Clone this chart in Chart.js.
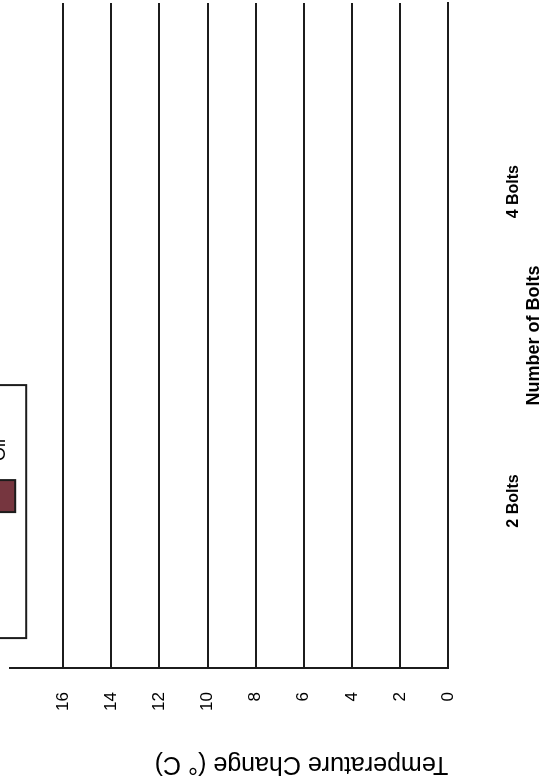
<!DOCTYPE html>
<html lang="en">

<head>
    <meta charset="UTF-8">
    <title>Temperature Change vs Number of Bolts</title>
    <script src="https://cdn.jsdelivr.net/npm/chart.js@4.4.1/dist/chart.umd.min.js"></script>
    <style>
        html,
        body {
            margin: 0;
            padding: 0;
            width: 545px;
            height: 779px;
            overflow: hidden;
            background-color: #fff;
        }
        
        /* the sheet was scanned sideways, so the whole chart is turned a quarter left */
        .sheet {
            position: absolute;
            left: 0;
            top: 779px;
            width: 779px;
            height: 545px;
            transform-origin: 0 0;
            transform: rotate(-90deg);
        }
    </style>
</head>

<body>
    <div class="sheet">
        <canvas id="bolt-chart" width="779" height="545"></canvas>
    </div>

    <script>
        const boltCounts = [2, 4];
        const boltLabels = ['2 Bolts', '4 Bolts'];
        const oilValues = [null, null]; // blank sheet, no bars filled in
        const tempTicks = [0, 2, 4, 6, 8, 10, 12, 14, 16];

        const font = '"Liberation Sans", Arial, sans-serif';
        const ink = '#1c1c1c';

        // boxed legend sitting at the top of the plot, cut off by the scan
        const legendBox = {
            id: 'legendBox',
            afterDraw(chart) {
                const { ctx, chartArea: a } = chart;
                const ds = chart.data.datasets[0];
                const left = a.left + 30;
                const right = a.left + 283;
                const bottom = a.top + 16;
                ctx.save();
                ctx.strokeStyle = ink;
                ctx.lineWidth = 2;
                ctx.strokeRect(left, -60, right - left, bottom + 60);
                const sx = left + 126;
                const sy = a.top - 25;
                ctx.fillStyle = ds.backgroundColor;
                ctx.fillRect(sx, sy, 32, 30);
                ctx.strokeRect(sx, sy, 32, 30);
                ctx.fillStyle = '#000';
                ctx.font = '18px ' + font;
                ctx.textBaseline = 'middle';
                ctx.fillText(ds.label, sx + 51, a.top - 10);
                ctx.restore();
            }
        };

        const ctx = document.getElementById('bolt-chart').getContext('2d');
        new Chart(ctx, {
            type: 'bar',
            data: {
                labels: boltCounts,
                datasets: [{
                    label: 'Oil',
                    data: oilValues,
                    backgroundColor: '#76363f',
                    borderColor: ink,
                    borderWidth: 1
                }]
            },
            options: {
                responsive: false,
                animation: false,
                layout: {
                    padding: { top: 10, right: 3, left: 0, bottom: 0 }
                },
                plugins: {
                    legend: { display: false },
                    tooltip: { enabled: false }
                },
                scales: {
                    x: {
                        type: 'linear',
                        offset: false,
                        min: 0.92,
                        max: 5.22,
                        afterBuildTicks: s => {
                            s.ticks = boltCounts.map(v => ({ value: v }));
                        },
                        grid: {
                            drawOnChartArea: false,
                            drawTicks: true,
                            tickLength: 56,
                            tickColor: 'rgba(0,0,0,0)'
                        },
                        border: { display: true, color: ink, width: 2 },
                        ticks: {
                            padding: 0,
                            maxRotation: 0,
                            color: '#000',
                            font: { family: font, size: 16, weight: 'bold' },
                            callback: (v, i) => boltLabels[i]
                        },
                        title: {
                            display: true,
                            text: 'Number of Bolts',
                            color: '#000',
                            padding: { top: 0, bottom: 0 },
                            font: { family: font, size: 18, weight: 'bold' }
                        }
                    },
                    y: {
                        min: 0,
                        max: 18.2,
                        afterBuildTicks: s => {
                            s.ticks = tempTicks.map(v => ({ value: v }));
                        },
                        grid: {
                            color: ink,
                            lineWidth: 2,
                            drawTicks: true,
                            tickLength: 24,
                            tickColor: 'rgba(0,0,0,0)'
                        },
                        border: { display: true, color: ink, width: 2 },
                        ticks: {
                            padding: 0,
                            color: '#000',
                            font: { family: font, size: 17 }
                        },
                        title: {
                            display: true,
                            text: 'Temperature Change (° C)',
                            align: 'start',
                            color: '#000',
                            padding: { top: 0, bottom: 38 },
                            font: { family: font, size: 25 }
                        }
                    }
                }
            },
            plugins: [legendBox]
        });
    </script>
</body>

</html>
